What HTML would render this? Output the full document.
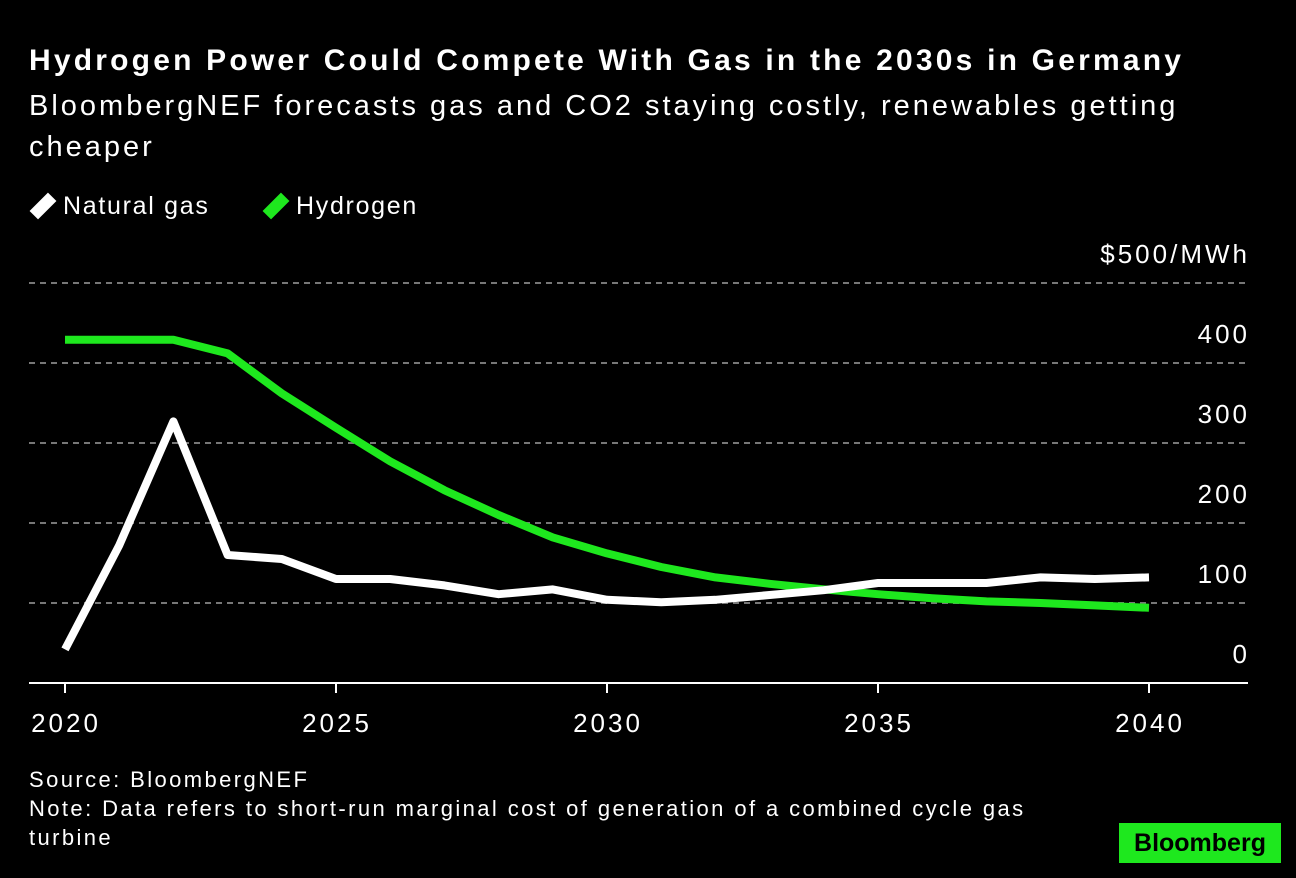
<!DOCTYPE html>
<html><head><meta charset="utf-8">
<style>
html,body{margin:0;padding:0;background:#000;}
body{width:1296px;height:878px;position:relative;overflow:hidden;font-family:"Liberation Sans",sans-serif;color:#fff;}
.t{position:absolute;white-space:nowrap;}
</style></head>
<body>
<div class="t" style="left:29px;top:44px;font-size:30px;letter-spacing:3.2px;font-weight:bold;">Hydrogen Power Could Compete With Gas in the 2030s in Germany</div>
<div class="t" style="left:29px;top:86px;font-size:29px;letter-spacing:3px;line-height:41px;white-space:normal;width:1230px;">BloombergNEF forecasts gas and CO2 staying costly, renewables getting cheaper</div>
<div class="t" style="left:29px;top:192px;font-size:25px;letter-spacing:1.7px;"><span style="display:inline-block;width:12px;height:26px;background:#fff;vertical-align:-5px;margin:0 14px 0 8px;transform:rotate(45deg);"></span>Natural gas</div>
<div class="t" style="left:262px;top:192px;font-size:25px;letter-spacing:1.7px;"><span style="display:inline-block;width:12px;height:26px;background:#1ee81e;vertical-align:-5px;margin:0 14px 0 8px;transform:rotate(45deg);"></span>Hydrogen</div>
<svg id="chart" width="1296" height="878" style="position:absolute;left:0;top:0;"></svg>
<div class="t" style="left:29px;top:765px;font-size:22px;letter-spacing:2.4px;line-height:29px;">Source: BloombergNEF<br>Note: Data refers to short-run marginal cost of generation of a combined cycle gas<br>turbine</div>
<div class="t" style="left:1119px;top:823px;width:162px;height:40px;background:#1ee81e;color:#000;font-size:25px;font-weight:bold;text-align:center;line-height:40px;">Bloomberg</div>
<script>
const years=[2020,2021,2022,2023,2024,2025,2026,2027,2028,2029,2030,2031,2032,2033,2034,2035,2036,2037,2038,2039,2040];
const gasValues=[42,172,327,160,155,130,130,122,111,117,104,101,104,110,116,125,125,125,132,130,132];
const hydrogenValues=[429,429,429,412,362,319,277,241,210,182,162,145,132,124,117,111,106,102,100,97,94];
const yTicks=[0,100,200,300,400,500];
const xTicks=[2020,2025,2030,2035,2040];
const svg=document.getElementById('chart');
const NS='http://www.w3.org/2000/svg';
const x=v=>65+(v-2020)*(1149-65)/20;
const y=v=>683-v*0.8;
function mk(tag,attrs){const e=document.createElementNS(NS,tag);for(const k in attrs)e.setAttribute(k,attrs[k]);svg.appendChild(e);return e;}
yTicks.forEach(t=>{
  if(t>0){const g=mk('line',{x1:29,x2:1248,y1:y(t),y2:y(t),stroke:'#777','stroke-width':2,'stroke-dasharray':'6,5'});
  
  }
  const tx=mk('text',{x:1250,y:y(t)-20,'text-anchor':'end','font-size':26,'letter-spacing':3,fill:'#fff','font-family':'Liberation Sans'});
  tx.textContent=t===500?'$500/MWh':String(t);
  
  
});
const ax=mk('line',{x1:29,x2:1248,y1:683,y2:683,stroke:'#fff','stroke-width':2});


xTicks.forEach(t=>{
  const tk=mk('line',{x1:x(t),x2:x(t),y1:683,y2:693,stroke:'#fff','stroke-width':2});
  
  
  const tx=mk('text',{x:x(t)+1,y:732,'text-anchor':'middle','font-size':26,'letter-spacing':3,fill:'#fff','font-family':'Liberation Sans'});
  tx.textContent=String(t);
  
  
});
function line(vals,color,name){
  const p=mk('polyline',{points:vals.map((v,i)=>x(years[i])+','+y(v)).join(' '),fill:'none',stroke:color,'stroke-width':8,'stroke-linejoin':'round','stroke-linecap':'butt'});
  
  
}
line(hydrogenValues,'#1ee81e','hydrogen-line');
line(gasValues,'#ffffff','natural-gas-line');
</script>
</body></html>
